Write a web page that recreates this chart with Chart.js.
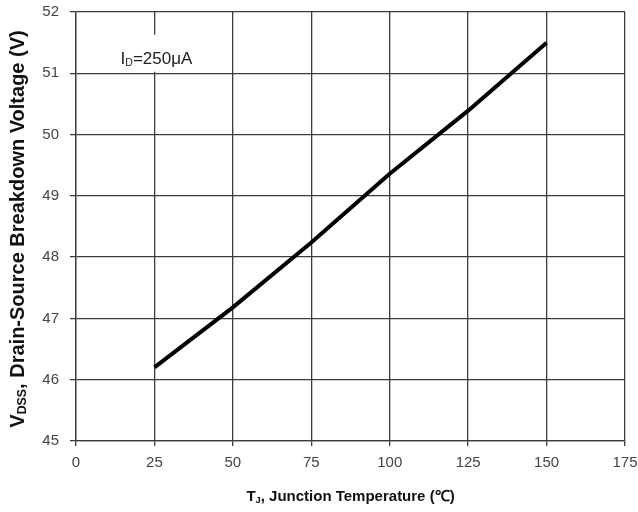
<!DOCTYPE html>
<html>
<head>
<meta charset="utf-8">
<script src="https://cdn.jsdelivr.net/npm/chart.js@4/dist/chart.umd.min.js"></script>
<style>
  html, body { margin: 0; padding: 0; background: #fff; }
  #wrap { width: 638px; height: 512px; }
</style>
</head>
<body>
<div id="wrap"><canvas id="c" width="638" height="512"></canvas></div>
<script>
// Junction temperature (°C) and drain-source breakdown voltage (V)
const temperatures = [25, 50, 75, 100, 125, 150];
const breakdownVoltage = [46.2, 47.18, 48.24, 49.36, 50.39, 51.5];

// Axis ranges and tick steps
const xTicks = [0, 25, 50, 75, 100, 125, 150, 175];
const yTicks = [45, 46, 47, 48, 49, 50, 51, 52];

const gridColor = '#3c3c3c';
const tickFont = { family: '"Liberation Sans Narrow", "Liberation Sans", Arial, sans-serif', size: 15 };

// Draws text runs with optional subscripts; returns total width
function drawRuns(ctx, runs, x, y, size, weight, family, measureOnly) {
  let w = 0;
  for (const r of runs) {
    const s = r.sub ? size * 0.62 : size;
    ctx.font = weight + ' ' + s + 'px ' + family;
    if (!measureOnly) {
      ctx.fillText(r.t, x + w, y + (r.sub ? size * 0.22 : 0));
    }
    w += ctx.measureText(r.t).width;
  }
  return w;
}

const annotations = {
  id: 'annotations',
  afterDraw(chart) {
    const ctx = chart.ctx;
    const xs = chart.scales.x, ys = chart.scales.y;
    ctx.save();
    ctx.textBaseline = 'middle';
    ctx.textAlign = 'left';

    // Test condition label with white backing
    const fam = '"Liberation Sans Narrow", "Liberation Sans", Arial, sans-serif';
    const labelRuns = [{ t: 'I' }, { t: 'D', sub: true }, { t: '=250μA' }];
    const lw = drawRuns(ctx, labelRuns, 0, 0, 17, '400', fam, true);
    const cx = xs.getPixelForValue(25) + 2;
    ctx.fillStyle = '#fff';
    ctx.fillRect(cx - lw / 2 - 10, ys.getPixelForValue(51.63), lw + 20, ys.getPixelForValue(51.0) - ys.getPixelForValue(51.63) - 1.5);
    ctx.fillStyle = '#222';
    drawRuns(ctx, labelRuns, cx - lw / 2, ys.getPixelForValue(51.22), 17, '400', fam, false);

    // X axis title
    const bfam = '"Liberation Sans", Arial, sans-serif';
    const xRuns = [{ t: 'T' }, { t: 'J', sub: true }, { t: ', Junction Temperature (℃)' }];
    const xw = drawRuns(ctx, xRuns, 0, 0, 15, 'bold', bfam, true);
    const xmid = (xs.left + xs.right) / 2;
    ctx.fillStyle = '#111';
    drawRuns(ctx, xRuns, xmid - xw / 2, 497, 15, 'bold', bfam, false);

    // Y axis title (rotated)
    const yRuns = [{ t: 'V' }, { t: 'DSS', sub: true }, { t: ', Drain-Source Breakdown Voltage (V)' }];
    const yw = drawRuns(ctx, yRuns, 0, 0, 20, 'bold', bfam, true);
    ctx.translate(18, 229);
    ctx.rotate(-Math.PI / 2);
    drawRuns(ctx, yRuns, -yw / 2, 0, 20, 'bold', bfam, false);
    ctx.restore();
  }
};

new Chart(document.getElementById('c'), {
  type: 'line',
  data: {
    datasets: [{
      data: temperatures.map((t, i) => ({ x: t, y: breakdownVoltage[i] })),
      borderColor: '#000',
      borderWidth: 4,
      pointRadius: 0,
      tension: 0,
      fill: false
    }]
  },
  options: {
    responsive: false,
    animation: false,
    layout: { padding: { top: 12, right: 13, left: 0, bottom: 0 } },
    plugins: { legend: { display: false }, tooltip: { enabled: false } },
    scales: {
      x: {
        type: 'linear',
        min: xTicks[0],
        max: xTicks[xTicks.length - 1],
        afterBuildTicks: s => { s.ticks = xTicks.map(v => ({ value: v })); },
        afterFit: s => { s.height = 71; s.paddingLeft = 0; s.paddingRight = 0; },
        grid: { color: gridColor, lineWidth: 1.3, tickLength: 5, drawTicks: true },
        border: { color: gridColor, width: 1.3 },
        ticks: { color: '#444', font: tickFont, padding: 8, maxRotation: 0 }
      },
      y: {
        type: 'linear',
        min: yTicks[0],
        max: yTicks[yTicks.length - 1],
        afterBuildTicks: s => { s.ticks = yTicks.map(v => ({ value: v })); },
        afterFit: s => { s.width = 76; s.paddingTop = 0; s.paddingBottom = 0; },
        grid: { color: gridColor, lineWidth: 1.3, tickLength: 6, drawTicks: true },
        border: { color: gridColor, width: 1.3 },
        ticks: { color: '#444', font: tickFont, padding: 11 }
      }
    }
  },
  plugins: [annotations]
});
</script>
</body>
</html>
